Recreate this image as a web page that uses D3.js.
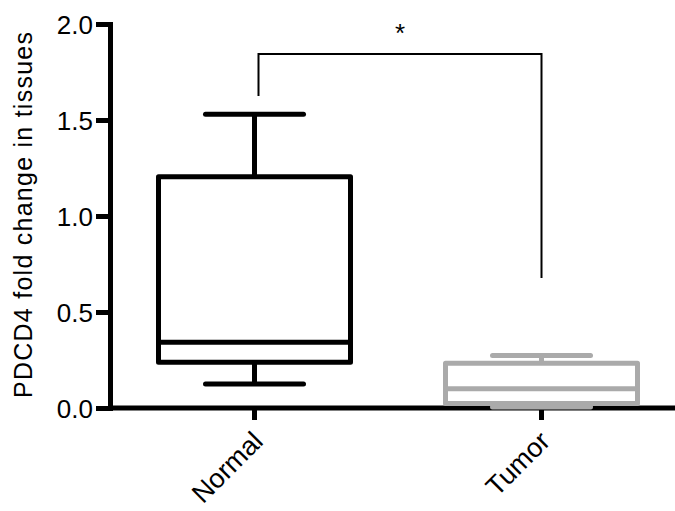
<!DOCTYPE html>
<html>
<head>
<meta charset="utf-8">
<script src="https://cdn.jsdelivr.net/npm/d3@7"></script>
<style>
  body { margin: 0; background: #fff; }
  text { font-family: "Liberation Sans", Arial, Helvetica, sans-serif; fill: #000; }
</style>
</head>
<body>
<div class="container"></div>
<script>
// box plot summary values
let groups = ["Normal", "Tumor"];
let whiskerLow = [0.125, 0.005];
let q1 = [0.238, 0.024];
let median = [0.342, 0.100];
let q3 = [1.205, 0.233];
let whiskerHigh = [1.530, 0.274];
let colors = ["#000000", "#aaaaaa"];
let yTicks = [0, 0.5, 1.0, 1.5, 2.0];

// significance bracket (y values), left end / right end
let bracketTop = 1.844;
let bracketEnds = [1.625, 0.677];
let starLabel = "*";

let svg = d3.select(".container").append("svg")
    .attr("width", 675)
    .attr("height", 511);

let margin = { top: 24, left: 110, bottom: 103 };
let height = 511 - margin.bottom;

let y = d3.scaleLinear().domain([0, 2]).range([height, margin.top]);
let x = d3.scaleBand().domain(groups).range([111, 685]);

let boxHalf = 96, capHalf = 49;

// y axis
let yAxis = svg.append("g")
    .attr("transform", "translate(" + margin.left + ",0)")
    .call(d3.axisLeft(y).tickValues(yTicks).tickFormat(d3.format(".1f"))
        .tickSize(14).tickSizeOuter(0).tickPadding(3));
yAxis.select(".domain").attr("stroke-width", 5).attr("stroke-linecap", "square");
yAxis.selectAll(".tick line").attr("stroke-width", 5);
yAxis.selectAll(".tick text").style("font-size", "26px")
    .attr("dy", "0.36em");

// x axis
let xAxis = svg.append("g")
    .attr("transform", "translate(0," + height + ")")
    .call(d3.axisBottom(x).tickSize(12).tickSizeOuter(0));
xAxis.select(".domain").attr("d", "M" + margin.left + ",0H675").attr("stroke-width", 5);
xAxis.selectAll(".tick line").attr("stroke-width", 5);
xAxis.selectAll(".tick text")
    .style("font-size", "27px")
    .attr("text-anchor", "end")
    .attr("y", 0).attr("dy", 0)
    .attr("transform", "translate(10,35) rotate(-45)");

// y title
svg.append("text")
    .attr("transform", "translate(32," + 215 + ") rotate(-90)")
    .attr("text-anchor", "middle")
    .attr("textLength", 366)
    .attr("lengthAdjust", "spacing")
    .style("font-size", "25px")
    .text("PDCD4 fold change in tissues");

// boxes
let boxes = svg.selectAll(".box")
    .data(groups)
    .enter()
    .append("g")
    .attr("class", "box")
    .attr("stroke", function (d, i) { return colors[i]; })
    .attr("stroke-width", 5)
    .attr("fill", "none");

boxes.each(function (d, i) {
    let g = d3.select(this);
    let cx = x(d) + x.bandwidth() / 2;
    // whiskers
    g.append("line")
        .attr("x1", cx).attr("x2", cx)
        .attr("y1", y(q3[i])).attr("y2", y(whiskerHigh[i]));
    g.append("line")
        .attr("x1", cx).attr("x2", cx)
        .attr("y1", y(q1[i])).attr("y2", y(whiskerLow[i]));
    // caps
    [whiskerHigh[i], whiskerLow[i]].forEach(function (v) {
        g.append("line")
            .attr("stroke-linecap", "round")
            .attr("x1", cx - capHalf).attr("x2", cx + capHalf)
            .attr("y1", y(v)).attr("y2", y(v));
    });
    // box
    g.append("rect")
        .attr("stroke-linejoin", "round")
        .attr("x", cx - boxHalf)
        .attr("y", y(q3[i]))
        .attr("width", boxHalf * 2)
        .attr("height", y(q1[i]) - y(q3[i]));
    // median
    g.append("line")
        .attr("x1", cx - boxHalf).attr("x2", cx + boxHalf)
        .attr("y1", y(median[i])).attr("y2", y(median[i]));
});

// significance bracket
let bx0 = x(groups[0]) + x.bandwidth() / 2 + 4;
let bx1 = x(groups[1]) + x.bandwidth() / 2;
svg.append("path")
    .attr("d", "M" + bx0 + "," + y(bracketEnds[0]) +
        "V" + y(bracketTop) + "H" + bx1 + "V" + y(bracketEnds[1]))
    .attr("fill", "none")
    .attr("stroke", "#000")
    .attr("stroke-width", 2);

svg.append("text")
    .attr("x", (bx0 + bx1) / 2 + 0)
    .attr("y", 42)
    .attr("text-anchor", "middle")
    .style("font-size", "26px")
    .text(starLabel);
</script>
</body>
</html>
